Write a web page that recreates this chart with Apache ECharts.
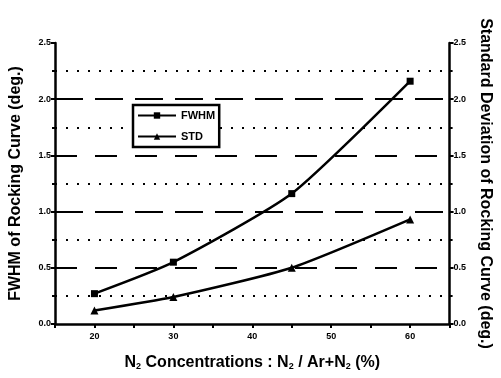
<!DOCTYPE html>
<html><head><meta charset="utf-8">
<script src="https://cdn.jsdelivr.net/npm/echarts@6/dist/echarts.min.js"></script>
<style>html,body{margin:0;padding:0;background:#fff}#c{width:501px;height:378px}</style>
</head><body><div id="c"></div>
<script>
const n2 = [20, 30, 45, 60];
const fwhm = [0.27, 0.55, 1.16, 2.16];
const std = [0.12, 0.24, 0.50, 0.93];
const yTicks = ['0.0', '0.5', '1.0', '1.5', '2.0', '2.5'];
const xTicks = ['20', '30', '40', '50', '60'];
const longDashLevels = [1.0, 2.0];
const shortDashLevels = [0.5, 1.5];
const dotLevels = [0.25, 0.75, 1.25, 1.75, 2.25];

const chart = echarts.init(document.getElementById('c'));
const F = 'Liberation Sans';
const yAxisBase = {
  type: 'value', min: 0, max: 2.5, interval: 0.5,
  axisLine: {show: true, lineStyle: {color: '#000', width: 2.5}},
  axisTick: {show: true, inside: false, length: 4, lineStyle: {color: '#000', width: 2}},
  minorTick: {show: true, splitNumber: 2, length: 3, lineStyle: {color: '#000', width: 2}},
  splitLine: {show: false},
  axisLabel: {color: '#000', fontFamily: F, fontWeight: 'bold', fontSize: 9, margin: 4,
    formatter: v => yTicks[Math.round(v / 0.5)]},
  nameLocation: 'middle',
  nameTextStyle: {color: '#000', fontFamily: F, fontWeight: 'bold', fontSize: 16}
};
const ml = (levels, type) => levels.map(v => ({yAxis: v, lineStyle: {color: '#000', width: 2, type: type}}));
chart.setOption({
  animation: false,
  backgroundColor: '#fff',
  grid: {left: 52, right: 44, top: 43, bottom: 54},
  legend: {
    left: 133, top: 105, width: 106, height: 42, orient: 'vertical',
    itemWidth: 38, itemHeight: 8, itemGap: 10, padding: [5, 4, 5, 4],
    borderColor: '#000', borderWidth: 2.5, backgroundColor: '#fff',
    textStyle: {color: '#000', fontFamily: F, fontWeight: 'bold', fontSize: 11},
    data: ['FWHM', 'STD']
  },
  xAxis: {
    type: 'value', min: 15, max: 65, interval: 5,
    axisLine: {onZero: false, lineStyle: {color: '#000', width: 2.5}},
    axisTick: {show: true, length: 4, lineStyle: {color: '#000', width: 2}},
    splitLine: {show: false},
    axisLabel: {color: '#000', fontFamily: F, fontWeight: 'bold', fontSize: 9, margin: 8,
      formatter: v => (v % 10 === 0 && v >= 20 && v <= 60) ? xTicks[(v - 20) / 10] : ''},
    name: '{b|N}{s|2}{b| Concentrations : N}{s|2}{b| / Ar+N}{s|2}{b| (%)}',
    nameLocation: 'middle', nameGap: 30,
    nameTextStyle: {rich: {
      b: {color: '#000', fontFamily: F, fontWeight: 'bold', fontSize: 16},
      s: {color: '#000', fontFamily: F, fontWeight: 'bold', fontSize: 9, verticalAlign: 'bottom', padding: [8, 0, 0, 0]}
    }}
  },
  yAxis: [
    Object.assign({}, yAxisBase, {
      position: 'left', name: 'FWHM of Rocking Curve (deg.)', nameGap: 31
    }),
    Object.assign({}, yAxisBase, {
      position: 'right', name: 'Standard Deviation of Rocking Curve (deg.)', nameGap: 27,
      nameRotate: -90
    })
  ],
  series: [
    {name: 'FWHM', type: 'line', yAxisIndex: 0, data: n2.map((x, i) => [x, fwhm[i]]),
      symbol: 'rect', symbolSize: 7, smooth: 0.2, z: 5,
      lineStyle: {color: '#000', width: 2.5}, itemStyle: {color: '#000'},
      markLine: {silent: true, symbol: 'none', label: {show: false}, z: 1,
        data: [].concat(ml(longDashLevels, [28, 12]), ml(shortDashLevels, [22, 18]), ml(dotLevels, [2, 9]))}},
    {name: 'STD', type: 'line', yAxisIndex: 1, data: n2.map((x, i) => [x, std[i]]),
      symbol: 'triangle', symbolSize: 8, smooth: 0.2, z: 5,
      lineStyle: {color: '#000', width: 2.5}, itemStyle: {color: '#000'}}
  ]
});
</script></body></html>
